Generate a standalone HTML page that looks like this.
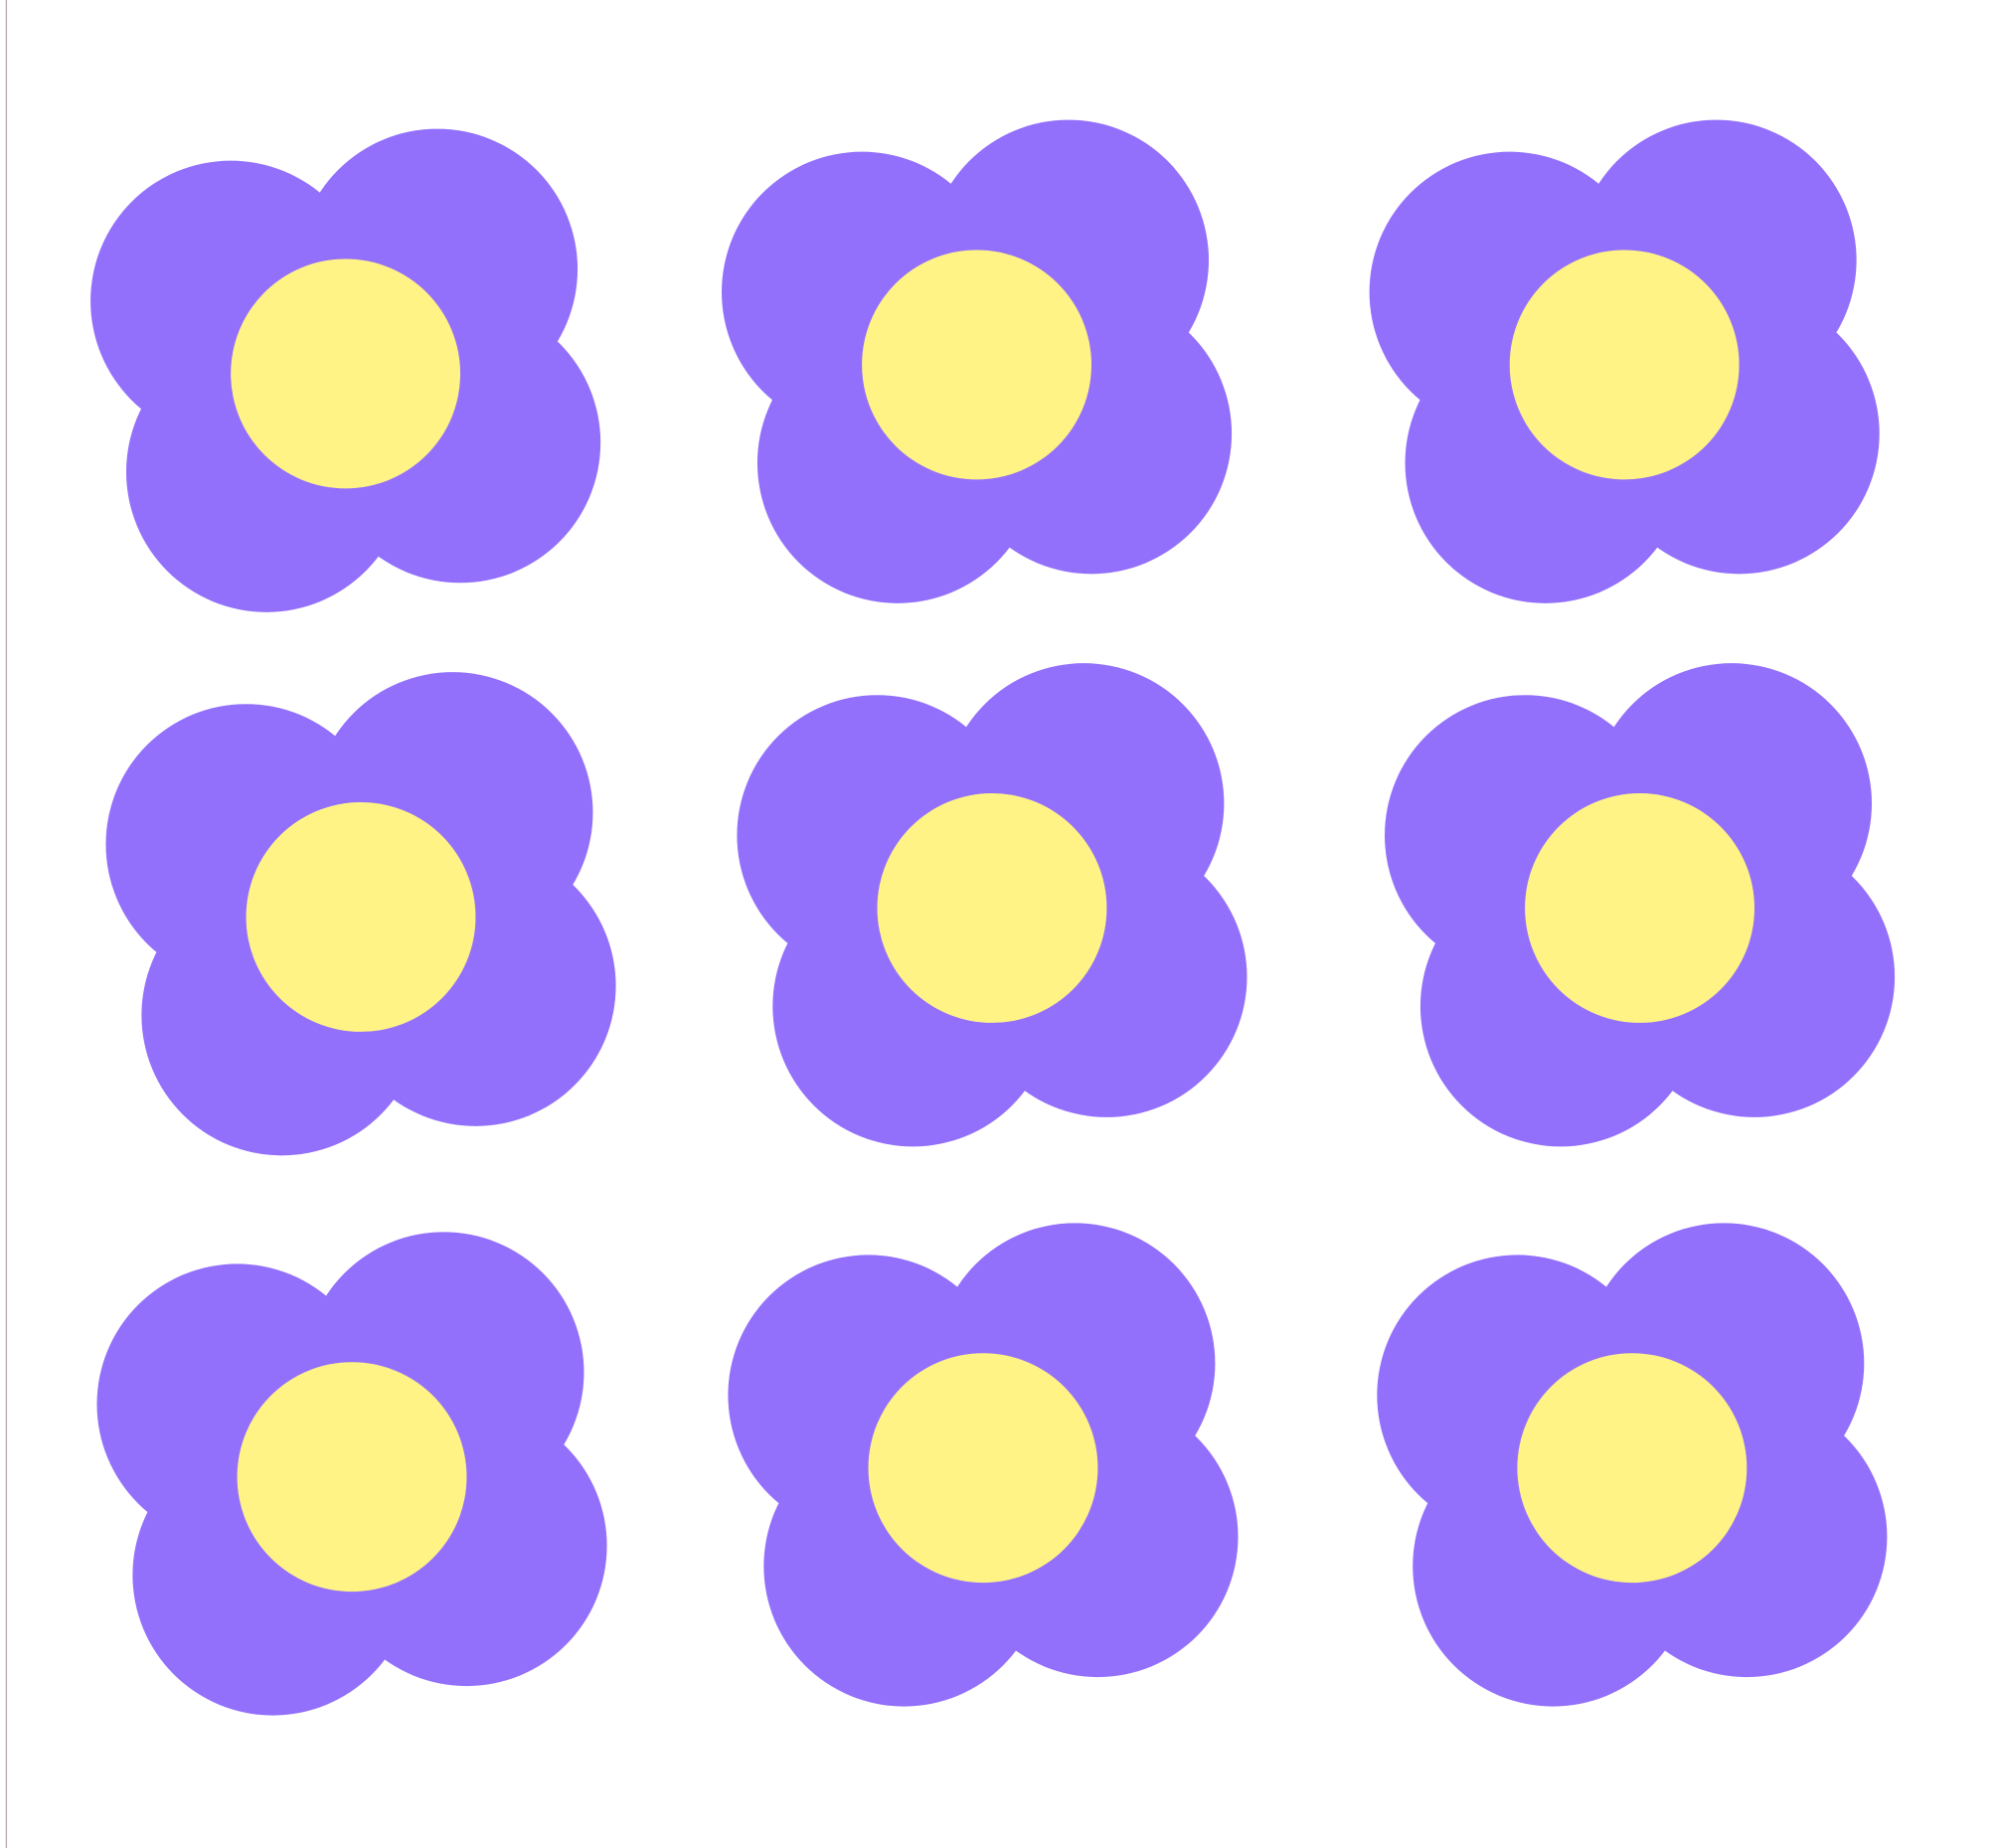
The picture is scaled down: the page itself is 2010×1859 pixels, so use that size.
<!DOCTYPE html>
<html><head><meta charset="utf-8"><style>
html,body{margin:0;padding:0;background:#fff;}
svg{display:block;}
</style></head><body>
<svg id="chart" width="2010" height="1859" viewBox="0 0 1567 1449" preserveAspectRatio="none" xmlns="http://www.w3.org/2000/svg">
<line x1="5" y1="0" x2="5" y2="1449" stroke="#b8a9a9" stroke-width="1"/>
<g id="flowers"></g>
</svg>
<script>
const flowerX = [271, 766, 1274, 283, 778, 1286, 276, 771, 1280];
const flowerY = [293, 286, 286, 719, 712, 712, 1158, 1151, 1151];
const petalDX = [-90, 72, 90, -62];
const petalDY = [-57, -82, 54, 77];
const petalR = 110;
const centerR = 90;
const NS = 'http://www.w3.org/2000/svg';
const g = document.getElementById('flowers');
for (let i = 0; i < flowerX.length; i++) {
  const fg = document.createElementNS(NS, 'g');
  
  
  for (let p = 0; p < petalDX.length; p++) {
    const c = document.createElementNS(NS, 'circle');
    c.setAttribute('cx', flowerX[i] + petalDX[p]);
    c.setAttribute('cy', flowerY[i] + petalDY[p]);
    c.setAttribute('r', petalR);
    c.setAttribute('fill', '#9370fb');
    
    
    fg.appendChild(c);
  }
  const y = document.createElementNS(NS, 'circle');
  y.setAttribute('cx', flowerX[i]);
  y.setAttribute('cy', flowerY[i]);
  y.setAttribute('r', centerR);
  y.setAttribute('fill', '#fff385');
  
  
  fg.appendChild(y);
  g.appendChild(fg);
}
</script>
</body></html>
